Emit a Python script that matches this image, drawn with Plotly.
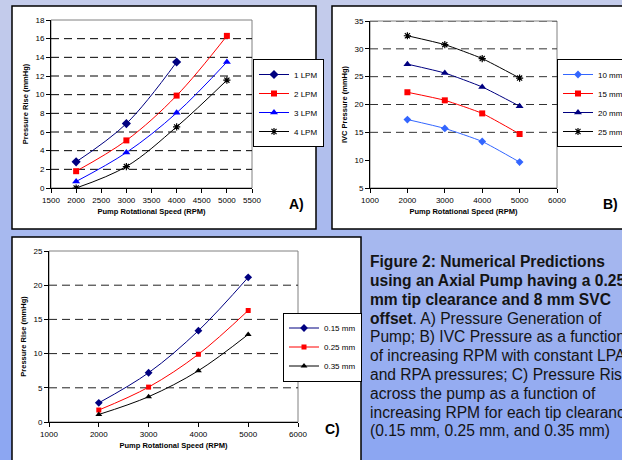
import plotly.graph_objects as go

W, H = 622, 460
FONT = "Liberation Sans, Arial, sans-serif"

# ---------------- data ----------------
rpm_a = [2000, 3000, 4000, 5000]
lpm1 = [2.8, 6.9, 13.5]
lpm2 = [1.8, 5.1, 9.9, 16.3]
lpm3 = [0.7, 3.8, 8.05, 13.5]
lpm4 = [0.0, 2.3, 6.55, 11.55]
names_a = ["1 LPM", "2 LPM", "3 LPM", "4 LPM"]

rpm_b = [2000, 3000, 4000, 5000]
ivc10 = [17.3, 15.7, 13.35, 9.65]
ivc15 = [22.2, 20.75, 18.4, 14.7]
ivc20 = [27.25, 25.65, 23.15, 19.7]
ivc25 = [32.35, 30.75, 28.25, 24.75]
names_b = ["10 mmHg", "15 mmHg", "20 mmHg", "25 mmHg"]

rpm_c = [2000, 3000, 4000, 5000]
tip015 = [2.8, 7.2, 13.35, 21.15]
tip025 = [1.75, 5.1, 9.9, 16.3]
tip035 = [1.1, 3.7, 7.5, 12.8]
names_c = ["0.15 mm", "0.25 mm", "0.35 mm"]

grid_a = [2, 4, 6, 8, 10, 12, 14, 16]
grid_b = [15, 20, 25, 30, 35]
grid_c = [5, 10, 15, 20]

caption = [
    "<b>Figure 2: Numerical Predictions</b>",
    "<b>using an Axial Pump having a 0.25</b>",
    "<b>mm tip clearance and 8 mm SVC</b>",
    "<b>offset</b>. A) Pressure Generation of",
    "Pump; B) IVC Pressure as a function",
    "of increasing RPM with constant LPA",
    "and RPA pressures; C) Pressure Rise",
    "across the pump as a function of",
    "increasing RPM for each tip clearance",
    "(0.15 mm, 0.25 mm, and 0.35 mm)",
]


def px(x):
    return x / W


def py(y):
    return 1 - y / H


fig = go.Figure()


def add(x, y, name, color, symbol, size, xa, ya, leg, smooth=1.0):
    is_ast = "asterisk" in symbol
    fig.add_trace(go.Scatter(
        x=x, y=y, name=name, mode="lines+markers",
        line=dict(color=color, width=1, shape="spline", smoothing=smooth),
        marker=dict(color=color, symbol=symbol, size=size,
                    line=dict(color=color, width=1.2 if is_ast else 0)),
        xaxis=xa, yaxis=ya, legend=leg))


NAVY, RED, BLUE, BLACK, LBLUE = "#000080", "#FF0000", "#0000FF", "#000000", "#3366FF"

add(rpm_a[:3], lpm1, names_a[0], NAVY, "diamond", 7, "x", "y", "legend")
add(rpm_a, lpm2, names_a[1], RED, "square", 6, "x", "y", "legend")
add(rpm_a, lpm3, names_a[2], BLUE, "triangle-up", 7, "x", "y", "legend")
add(rpm_a, lpm4, names_a[3], BLACK, "asterisk-open", 6, "x", "y", "legend")

add(rpm_b, ivc10, names_b[0], LBLUE, "diamond", 6, "x2", "y2", "legend2", 0.5)
add(rpm_b, ivc15, names_b[1], RED, "square", 6, "x2", "y2", "legend2", 0.5)
add(rpm_b, ivc20, names_b[2], NAVY, "triangle-up", 7, "x2", "y2", "legend2", 0.5)
add(rpm_b, ivc25, names_b[3], BLACK, "asterisk-open", 6, "x2", "y2", "legend2", 0.5)

add(rpm_c, tip015, names_c[0], NAVY, "diamond", 6, "x3", "y3", "legend3")
add(rpm_c, tip025, names_c[1], RED, "square", 5, "x3", "y3", "legend3")
add(rpm_c, tip035, names_c[2], BLACK, "triangle-up", 6, "x3", "y3", "legend3")

shapes = []
# gradient background
n = 46
top = (196, 204, 235)
bot = (140, 166, 242)
for i in range(n):
    t = i / (n - 1)
    c = tuple(int(round(top[k] + (bot[k] - top[k]) * t)) for k in range(3))
    shapes.append(dict(type="rect", xref="paper", yref="paper", layer="below",
                       x0=0, x1=1, y0=1 - (i + 1) / n, y1=1 - i / n,
                       fillcolor="rgb(%d,%d,%d)" % c, line=dict(width=0)))
# white panels
for (x0, y0, x1, y1) in [(12, 6, 316, 229), (332, 6, 650, 229), (12, 237, 361, 480)]:
    shapes.append(dict(type="rect", xref="paper", yref="paper", layer="below",
                       x0=px(x0), x1=px(x1), y0=py(y1), y1=py(y0),
                       fillcolor="white", line=dict(color="black", width=1.5)))
# plot-area borders
for xa, ya in [("x", "y"), ("x2", "y2"), ("x3", "y3")]:
    shapes.append(dict(type="rect", xref=xa + " domain", yref=ya + " domain", layer="below",
                       x0=0, x1=1, y0=0, y1=1, line=dict(color="#808080", width=1),
                       fillcolor="rgba(0,0,0,0)"))
# dashed grid lines
for grid, xa, ya, col in [(grid_a, "x", "y", "#000000"), (grid_b, "x2", "y2", "#333333"),
                          (grid_c, "x3", "y3", "#222222")]:
    for g in grid:
        shapes.append(dict(type="line", xref=xa + " domain", yref=ya, layer="below",
                           x0=0, x1=1, y0=g, y1=g,
                           line=dict(color=col, width=1, dash="8px,5px")))

tickfont = dict(family=FONT, size=8, color="black")
titlefont = dict(family=FONT, size=7.5, color="black")


def xax(domain, rng, dtick, anchor):
    return dict(domain=domain, range=rng, dtick=dtick, anchor=anchor, showline=True,
                linecolor="black", linewidth=1, ticks="outside", ticklen=4,
                tickcolor="black", tickfont=tickfont, showgrid=False, zeroline=False,
                title=dict(text="<b>Pump Rotational Speed (RPM)</b>", font=titlefont, standoff=5),
                fixedrange=True)


def yax(domain, rng, dtick, anchor, title):
    return dict(domain=domain, range=rng, dtick=dtick, anchor=anchor, showline=True,
                linecolor="black", linewidth=1, ticks="outside", ticklen=4,
                tickcolor="black", tickfont=tickfont, showgrid=False, zeroline=False,
                title=dict(text="<b>%s</b>" % title, font=titlefont, standoff=5),
                fixedrange=True)


annotations = []
for txt, x, y in [("A)", 296, 204), ("B)", 610, 204), ("C)", 332, 429)]:
    annotations.append(dict(text="<b>%s</b>" % txt, x=px(x), y=py(y), xref="paper", yref="paper",
                            showarrow=False, xanchor="center", yanchor="middle",
                            font=dict(family=FONT, size=14, color="black")))
for i, line in enumerate(caption):
    annotations.append(dict(text=line, x=px(368), y=py(261.7 + 18.8 * i), xref="paper",
                            yref="paper", showarrow=False, xanchor="left", yanchor="middle",
                            align="left", font=dict(family=FONT, size=15.6, color="#141414")))

leg_common = dict(bgcolor="white", bordercolor="black", borderwidth=1,
                  font=dict(family=FONT, size=8, color="black"),
                  xanchor="left", yanchor="middle", itemclick=False, itemdoubleclick=False,
                  tracegroupgap=0, itemwidth=30)

fig.update_layout(
    width=W, height=H, margin=dict(l=0, r=0, t=0, b=0, autoexpand=False),
    paper_bgcolor="rgb(170,185,238)", plot_bgcolor="rgba(0,0,0,0)",
    font=dict(family=FONT),
    showlegend=True,
    xaxis=xax([px(51), px(252)], [1500, 5500], 500, "y"),
    yaxis=yax([py(188), py(20)], [0, 18], 2, "x", "Pressure Rise (mmHg)"),
    xaxis2=xax([px(370), px(557)], [1000, 6000], 1000, "y2"),
    yaxis2=yax([py(188), py(21)], [5, 35], 5, "x2", "IVC Pressure (mmHg)"),
    xaxis3=xax([px(49), px(298)], [1000, 6000], 1000, "y3"),
    yaxis3=yax([py(422), py(251)], [0, 25], 5, "x3", "Pressure Rise (mmHg)"),
    legend=dict(x=px(253), y=py(103), **leg_common),
    legend2=dict(x=px(557), y=py(103), **leg_common),
    legend3=dict(x=px(283), y=py(347), **leg_common),
    shapes=shapes,
    annotations=annotations,
)

fig.write_html("out.html", config={"displayModeBar": False},
               post_script="document.body.style.margin='0px';document.body.style.padding='0px';")
